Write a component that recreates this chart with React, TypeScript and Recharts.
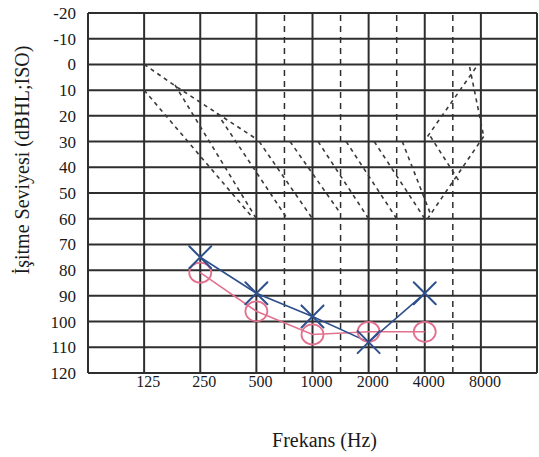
import React from 'react';
import {
  ComposedChart,
  Line,
  Scatter,
  XAxis,
  YAxis,
  ReferenceLine,
} from 'recharts';

// frequency axis: octave index, 125 Hz = 1 ... 8000 Hz = 7
const FREQ_POS = [1, 2, 3, 4, 5, 6, 7];
const FREQ_LABELS = ['125', '250', '500', '1000', '2000', '4000', '8000'];
const GRID_X = [0, 1, 2, 3, 4, 5, 6, 7, 8];
const HALF_OCTAVES = [3.5, 4.5, 5.5, 6.5];
const DB_TICKS = [-20, -10, 0, 10, 20, 30, 40, 50, 60, 70, 80, 90, 100, 110, 120];

// blue X markers
const blueFreq = [2, 3, 4, 5, 6];
const blueDb = [75, 89, 98, 108, 89];
// pink O markers
const pinkFreq = [2, 3, 4, 5, 6];
const pinkDb = [81, 96, 105, 104, 104];

// dashed template lines on the form, [freq index, dB]
const bananaSegments: [number, number][][] = [
  [[1, 0], [1.6, 9], [2.3, 19], [3, 29]],
  [[1, 10], [2.95, 60]],
  [[1.55, 8], [3, 60]],
  [[2.3, 19], [3.55, 60]],
  [[3.05, 30], [4, 60]],
  [[3.6, 30], [4.5, 58]],
  [[4.1, 30], [5, 60]],
  [[4.6, 30], [5.5, 60]],
  [[5.1, 30], [6, 60]],
  [[5.6, 30], [6.1, 58]],
  [[6.05, 28], [6.95, 0]],
  [[6.8, 1], [7.05, 28]],
  [[7.05, 28], [6.05, 60]],
  [[6.1, 28], [6.6, 45]],
];

const toPoints = (xs: number[], ys: number[]) => xs.map((x, i) => ({ x, y: ys[i] }));
const bluePoints = toPoints(blueFreq, blueDb);
const pinkPoints = toPoints(pinkFreq, pinkDb);

const SERIF = "'Liberation Serif', 'Times New Roman', 'DejaVu Serif', serif";
const TEXT_STYLE = { fontFamily: SERIF, fill: '#1a1a1a' };
const GRID = '#2e2e2e';
const BLUE = '#2d4f8c';
const PINK = '#e2718f';

const CrossShape = (props: any) => {
  const { cx, cy } = props;
  const s = 11;
  return (
    <g stroke={BLUE} strokeWidth={2} strokeLinecap="round">
      <line x1={cx - s} y1={cy - s} x2={cx + s} y2={cy + s} />
      <line x1={cx - s} y1={cy + s} x2={cx + s} y2={cy - s} />
    </g>
  );
};

const CircleShape = (props: any) => {
  const { cx, cy } = props;
  return <ellipse cx={cx} cy={cy} rx={11} ry={10} fill="none" stroke={PINK} strokeWidth={1.8} />;
};

const FreqTick = (props: any) => {
  const { x, y, payload } = props;
  return (
    <text x={x + 4} y={y + 14} textAnchor="middle" style={{ ...TEXT_STYLE, fontSize: 16 }}>
      {FREQ_LABELS[payload.value - 1]}
    </text>
  );
};

const DbTick = (props: any) => {
  const { x, y, payload } = props;
  return (
    <text x={x - 12} y={y + 6} textAnchor="end" style={{ ...TEXT_STYLE, fontSize: 17 }}>
      {payload.value}
    </text>
  );
};

const XTitle = (props: any) => {
  const vb = props.viewBox || { x: 88, y: 373, width: 449 };
  return (
    <text
      x={vb.x + vb.width / 2 + 12}
      y={vb.y + 74}
      textAnchor="middle"
      style={{ ...TEXT_STYLE, fontSize: 20 }}
    >
      Frekans (Hz)
    </text>
  );
};

const YTitle = (props: any) => {
  const vb = props.viewBox || { x: 0, y: 13 };
  const x = vb.x + 29;
  const y = vb.y + 147;
  return (
    <text
      x={x}
      y={y}
      transform={`rotate(-90, ${x}, ${y})`}
      textAnchor="middle"
      style={{ ...TEXT_STYLE, fontSize: 20 }}
    >
      İşitme Seviyesi (dBHL;ISO)
    </text>
  );
};

const App = () => (
  <div style={{ position: 'absolute', left: 0, top: 0, width: 539, height: 457, background: '#fff' }}>
    <ComposedChart width={539} height={457} margin={{ top: 13, right: 2, bottom: 0, left: 0 }}>
      <XAxis
        type="number"
        dataKey="x"
        domain={[0, 8]}
        ticks={FREQ_POS}
        interval={0}
        allowDataOverflow
        axisLine={false}
        tickLine={false}
        tickSize={0}
        tickMargin={0}
        height={84}
        tick={<FreqTick />}
        label={{ content: XTitle }}
      />
      <YAxis
        type="number"
        dataKey="y"
        domain={[-20, 120]}
        reversed
        ticks={DB_TICKS}
        interval={0}
        allowDataOverflow
        axisLine={false}
        tickLine={false}
        tickSize={0}
        tickMargin={0}
        width={88}
        tick={<DbTick />}
        label={{ content: YTitle }}
      />
      {DB_TICKS.map((v) => (
        <ReferenceLine key={`h-${v}`} y={v} stroke={GRID} strokeWidth={2} />
      ))}
      {GRID_X.map((v) => (
        <ReferenceLine key={`v-${v}`} x={v} stroke={GRID} strokeWidth={2} />
      ))}
      {HALF_OCTAVES.map((v) => (
        <ReferenceLine key={`d-${v}`} x={v} stroke={GRID} strokeWidth={1.5} strokeDasharray="6 5" />
      ))}
      {bananaSegments.map((seg, i) => (
        <Line
          key={`b-${i}`}
          data={seg.map(([x, y]) => ({ x, y }))}
          dataKey="y"
          type="linear"
          stroke="#3a3a3a"
          strokeWidth={1.6}
          strokeDasharray="4 4"
          dot={false}
          activeDot={false}
          isAnimationActive={false}
        />
      ))}
      <Line
        data={pinkPoints}
        dataKey="y"
        type="linear"
        stroke={PINK}
        strokeWidth={1.5}
        dot={false}
        activeDot={false}
        isAnimationActive={false}
      />
      <Line
        data={bluePoints}
        dataKey="y"
        type="linear"
        stroke={BLUE}
        strokeWidth={1.6}
        dot={false}
        activeDot={false}
        isAnimationActive={false}
      />
      <Scatter data={pinkPoints} shape={CircleShape} isAnimationActive={false} />
      <Scatter data={bluePoints} shape={CrossShape} isAnimationActive={false} />
    </ComposedChart>
  </div>
);

export default App;
